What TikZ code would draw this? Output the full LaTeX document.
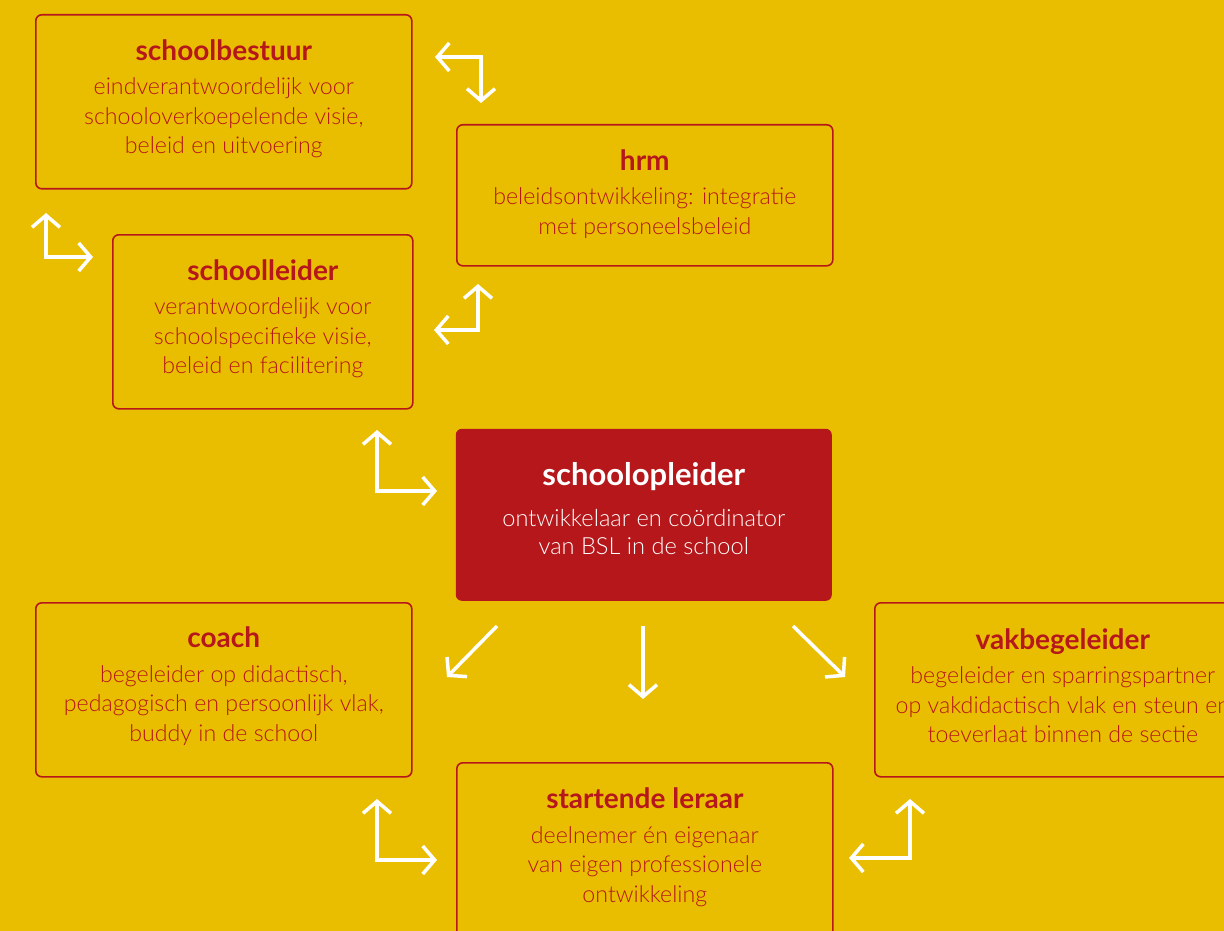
\documentclass[tikz,border=0pt]{standalone}
\usepackage{fontspec}
\setmainfont{Lato}[UprightFont=* Light, BoldFont=* Bold]
\usetikzlibrary{
    arrows.meta,
    positioning
}
\definecolor{bslgeel}{HTML}{E9BE00}
\definecolor{bslrood}{HTML}{B5171A}
\newcommand{\rolkop}[1]{{\fontsize{28}{30}\selectfont\bfseries #1}\\[5pt]}
\newcommand{\kernkop}[1]{{\fontsize{31}{30}\selectfont\bfseries #1}\\[12pt]}

\begin{document}
\begin{tikzpicture} [x=1pt, y=-1pt,
    rol/.style={rectangle, draw=bslrood, line width=1.6pt, rounded corners=6pt,
                text=bslrood, align=center, inner sep=0pt, anchor=north west,
                minimum width=376pt, minimum height=174pt, text depth=10.5pt,
                font=\fontsize{23.2}{29.5}\selectfont},
    kern/.style={rol, fill=bslrood, draw=none, text=white,
                font=\fontsize{23.6}{28.5}\selectfont},
    wit/.style={draw=white, line width=3.5pt,
                arrows={Straight Barb[length=12pt, width=28pt]-Straight Barb[length=12pt, width=28pt]}},
    witpijl/.style={draw=white, line width=3.5pt,
                -{Straight Barb[length=12pt, width=28pt]}}
]
    \useasboundingbox (0,0) rectangle (1224,931);
    \fill[bslgeel] (0,0) rectangle (1224,931);

    % rollen
    \node[rol]                   (schoolbestuur)  at (35,14)
        {\rolkop{schoolbestuur}eindverantwoordelijk voor\\schooloverkoepelende visie,\\beleid en uitvoering};
    \node[rol, minimum height=141pt, text depth=6.5pt] (hrm) at (456,124)
        {\rolkop{hrm}beleidsontwikkeling: integratie\\met personeelsbeleid};
    \node[rol, minimum width=300pt] (schoolleider) at (112,234)
        {\rolkop{schoolleider}verantwoordelijk voor\\schoolspecifieke visie,\\beleid en facilitering};
    \node[kern, minimum height=172pt, text depth=12pt] (schoolopleider) at (455,428)
        {\kernkop{schoolopleider}ontwikkelaar en coördinator\\van BSL in de school};
    \node[rol, text depth=11.5pt] (coach)         at (35,602)
        {\rolkop{coach}begeleider op didactisch,\\pedagogisch en persoonlijk vlak,\\buddy in de school};
    \node[rol, text depth=8pt]   (vakbegeleider)  at (874,602)
        {\rolkop{vakbegeleider}begeleider en sparringspartner\\op vakdidactisch vlak en steun en\\toeverlaat binnen de sectie};
    \node[rol, text depth=9.5pt] (startende)      at (456,762)
        {\rolkop{startende leraar}deelnemer én eigenaar\\van eigen professionele\\ontwikkeling};

    % pijlen
    \coordinate (bestuur-a) at (435,57);   \coordinate (bestuur-b) at (481,103);
    \coordinate (leider-a)  at (46,213);   \coordinate (leider-b)  at (93,257);
    \coordinate (hrm-a)     at (478,284);  \coordinate (hrm-b)     at (434,330);
    \coordinate (opl-a)     at (377,430);  \coordinate (opl-b)     at (437,491);
    \coordinate (coach-a)   at (377,799);  \coordinate (coach-b)   at (437,860);
    \coordinate (vak-a)     at (910,799);  \coordinate (vak-b)     at (849,858);
    \coordinate (neer-1a)   at (497,626);  \coordinate (neer-1b)   at (447,677);
    \coordinate (neer-2a)   at (643,626);  \coordinate (neer-2b)   at (643,699);
    \coordinate (neer-3a)   at (793,626);  \coordinate (neer-3b)   at (845,677);

    \draw[wit] (bestuur-a) -| (bestuur-b);
    \draw[wit] (leider-a) |- (leider-b);
    \draw[wit] (hrm-a) |- (hrm-b);
    \draw[wit] (opl-a) |- (opl-b);
    \draw[wit] (coach-a) |- (coach-b);
    \draw[wit] (vak-a) |- (vak-b);
    \draw[witpijl] (neer-1a) -- (neer-1b);
    \draw[witpijl] (neer-2a) -- (neer-2b);
    \draw[witpijl] (neer-3a) -- (neer-3b);
\end{tikzpicture}
\end{document}
